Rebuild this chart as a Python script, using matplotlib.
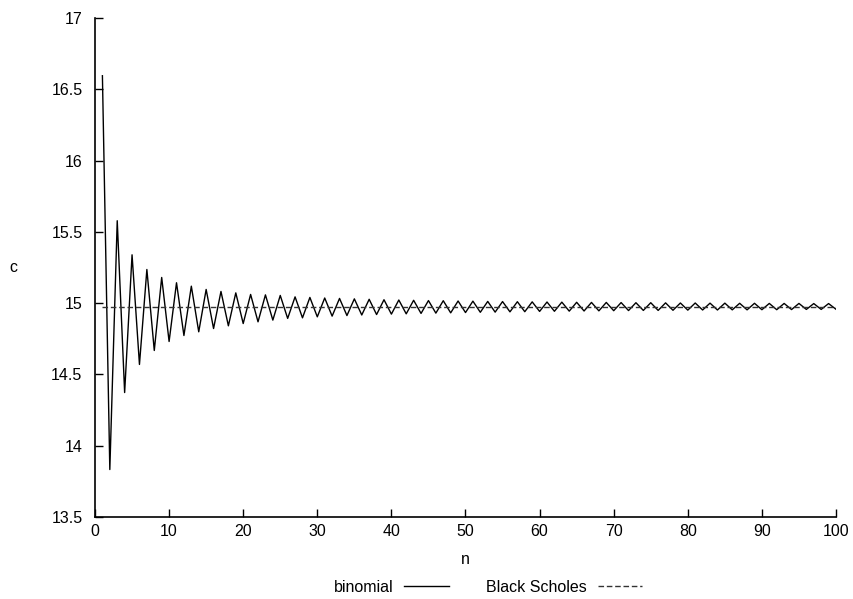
import matplotlib
matplotlib.use("Agg")
import matplotlib.pyplot as plt
import numpy as np

plt.rcParams['font.family'] = ['Liberation Sans', 'DejaVu Sans']

n_steps = list(range(1, 101))
binomial = [
    16.595, 13.833, 15.578, 14.373, 15.339, 14.570, 15.236, 14.668, 15.180, 14.731,
    15.143, 14.773, 15.119, 14.799, 15.096, 14.822, 15.082, 14.841, 15.072, 14.857,
    15.061, 14.869, 15.058, 14.881, 15.054, 14.893, 15.044, 14.897, 15.040, 14.904,
    15.036, 14.909, 15.033, 14.913, 15.030, 14.917, 15.027, 14.920, 15.024, 14.923,
    15.022, 14.925, 15.020, 14.928, 15.018, 14.930, 15.017, 14.932, 15.015, 14.934,
    15.014, 14.936, 15.012, 14.937, 15.011, 14.939, 15.010, 14.940, 15.009, 14.942,
    15.008, 14.943, 15.007, 14.944, 15.006, 14.945, 15.005, 14.946, 15.005, 14.947,
    15.004, 14.948, 15.003, 14.949, 15.003, 14.949, 15.002, 14.950, 15.001, 14.951,
    15.001, 14.952, 15.000, 14.952, 15.000, 14.953, 14.999, 14.953, 14.999, 14.954,
    14.998, 14.954, 14.998, 14.955, 14.998, 14.956, 14.997, 14.956, 14.997, 14.957,
]
black_scholes_value = 14.976
black_scholes = [black_scholes_value] * len(n_steps)

x_ticks = [0, 10, 20, 30, 40, 50, 60, 70, 80, 90, 100]
y_ticks = [13.5, 14, 14.5, 15, 15.5, 16, 16.5, 17]
y_tick_labels = ['13.5', '14', '14.5', '15', '15.5', '16', '16.5', '17']

FS = 11.5

fig = plt.figure(figsize=(8.54, 5.99), dpi=100)
ax = fig.add_axes([95/854, 82/599, 741/854, 499/599])

l1, = ax.plot(n_steps, binomial, color='black', lw=1.0, label='binomial')
l2, = ax.plot(n_steps, black_scholes, color='#333333', lw=1.0, ls=(0, (4, 2)), label='Black Scholes')

ax.set_xlim(0, 100)
ax.set_ylim(13.5, 17)
ax.set_xticks(x_ticks)
ax.set_yticks(y_ticks)
ax.set_yticklabels(y_tick_labels)
ax.spines['top'].set_visible(False)
ax.spines['right'].set_visible(False)
ax.spines['left'].set_linewidth(1.2)
ax.spines['bottom'].set_linewidth(1.2)
ax.tick_params(direction='in', length=6, width=1, labelsize=FS)
ax.tick_params(axis='x', pad=5)
ax.tick_params(axis='y', pad=9)
ax.set_xlabel('n', fontsize=FS)
ax.xaxis.set_label_coords(0.5, -(559 - 517) / 499, transform=ax.transAxes)
ax.xaxis.label.set_va('center')
ax.set_ylabel('c', fontsize=FS, rotation=0, va='center', ha='center')
ax.yaxis.set_label_coords(-(95 - 13) / 741, 0.5)

fig.legend(handles=[l1, l2], loc='center', bbox_to_anchor=(488/854, 1 - 587/599),
           ncol=2, frameon=False, markerfirst=False, fontsize=FS,
           handlelength=2.8, columnspacing=2.3, handletextpad=0.7)

fig.savefig('out.png', dpi=100)
